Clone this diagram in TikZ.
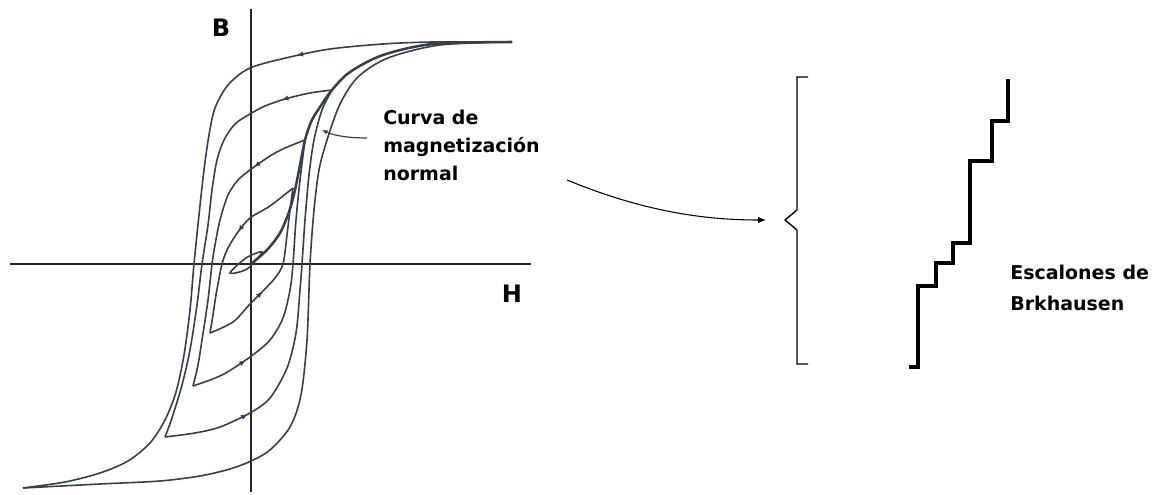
\documentclass[tikz,border=0pt]{standalone}
\usepackage{fontspec}
\setmainfont{DejaVu Sans}
\usetikzlibrary{arrows.meta,calc,positioning,decorations.markings}
\definecolor{loopgray}{RGB}{58,62,74}

\begin{document}
\begin{tikzpicture}[
    x=0.75pt, y=-0.75pt,
    >=Stealth,
    axis/.style={draw=black!85, line width=1.5pt},
    loopline/.style={draw=loopgray, line width=1.2pt},
    normalcurve/.style={draw=loopgray, line width=1.9pt},
    flow/.style={postaction={decorate, decoration={markings,
        mark=at position #1 with {\arrow{Latex[length=5pt,width=4pt]}}}}},
    axislabel/.style={font=\bfseries\fontsize{18}{20}\selectfont, inner sep=0pt},
    note/.style={font=\bfseries\fontsize{14.25}{21}\selectfont, align=left, inner sep=0pt},
    bracket/.style={draw=black, line width=1pt},
    stairs/.style={draw=black, line width=3pt}
]
    \useasboundingbox (0,0) rectangle (1157,495);

    % axes
    \coordinate (O) at (251,264);
    \coordinate (Hleft)  at (10,264);
    \coordinate (Hright) at (531,264);
    \coordinate (Btop)   at (251,9);
    \coordinate (Bbot)   at (251,492);
    \draw[axis] (Hleft) -- (Hright);
    \draw[axis] (Btop) -- (Bbot);
    \node[axislabel] (B) at (221,27.5) {B};
    \node[axislabel] (H) at (512,294) {H};

    % outer loop
    \draw[loopline, flow=0.27] plot[smooth] coordinates {(512,42) (433,42) (383,44) (330,49) (290,57) (250,68) (228,85) (215,108) (209,135) (204,170) (199,215) (194,264) (190,310) (184,355) (176,392) (165,420) (150,443) (128,461) (100,473) (65,482) (23,488)};
    \draw[loopline] plot[smooth] coordinates {(23,488) (100,484) (160,481) (200,476) (230,469) (251,461) (270,450) (290,427) (301,395) (307,340) (310,264) (314,210) (319,170) (327,140) (340,104) (358,77) (388,58) (440,45) (512,42)};

    % minor loops
    \draw[loopline, flow=0.12] plot[smooth] coordinates {(332,90) (310,93) (285,99) (265,106) (250,114) (235,124) (224,140) (217,160) (212,190) (208,225) (202,264) (197,305) (190,350) (182,385) (172,418) (165,437)};
    \draw[loopline, flow=0.2] plot[smooth] coordinates {(165,437) (195,433) (220,427) (250,413) (270,398) (287,368) (296,333) (300,290) (302,264) (305,220) (309,175) (314,140) (322,110) (332,90)};

    \draw[loopline, flow=0.2] plot[smooth] coordinates {(305,140) (285,148) (270,156) (250,170) (238,180) (228,195) (220,220) (215,245) (212,264) (208,300) (202,340) (198,365) (193,386)};
    \draw[loopline, flow=0.2] plot[smooth] coordinates {(193,386) (222,375) (250,357) (270,340) (283,318) (290,290) (293,264) (296,220) (300,180) (305,140)};

    \draw[loopline, flow=0.4] plot[smooth] coordinates {(293,188) (270,206) (250,218) (238,232) (228,248) (222,264) (216,295) (213,315) (210,333)};
    \draw[loopline, flow=0.38] plot[smooth] coordinates {(210,333) (233,322) (250,304) (263,291) (275,278) (283,264) (287,235) (290,210) (293,188)};

    \draw[loopline] plot[smooth cycle] coordinates {(262,252) (246,258) (230,273) (247,269)};

    % normal magnetization curve
    \draw[normalcurve] plot[smooth] coordinates {(251,264) (267,250) (280,233) (289,212) (295,190) (300,165) (305,140) (311,122) (318,110) (332,90) (350,72) (383,55) (433,44) (512,42)};

    \node[note, anchor=north west] (normal) at (383,110) {Curva de\\magnetización\\normal};
    \coordinate (leadS) at (367,138);
    \coordinate (leadE) at (322,130);
    \draw[loopgray, line width=0.9pt, -{Latex[length=4pt,width=3.5pt]}] (leadS) .. controls (350,138) and (335,136) .. (leadE);

    % zoom arrow and bracket
    \coordinate (arrS) at (567,180);
    \coordinate (arrE) at (766,220);
    \draw[line width=0.8pt, -{Latex[length=6pt,width=5pt]}] (arrS) .. controls (640,210) and (700,220) .. (arrE);

    \draw[bracket] (808,77) -- (797,77) -- (797,210) -- (785,220) -- (797,230) -- (797,364) -- (808,364);

    % Barkhausen steps
    \draw[stairs] (909,367) -- (918,367) -- (918,286) -- (936,286) -- (936,263) -- (953,263) -- (953,243) -- (970,243) -- (970,161) -- (992,161) -- (992,121) -- (1008,121) -- (1008,79);

    \node[note, anchor=north west, font=\bfseries\fontsize{14.25}{23}\selectfont] (steps) at (1010,265) {Escalones de\\Brkhausen};
\end{tikzpicture}
\end{document}
